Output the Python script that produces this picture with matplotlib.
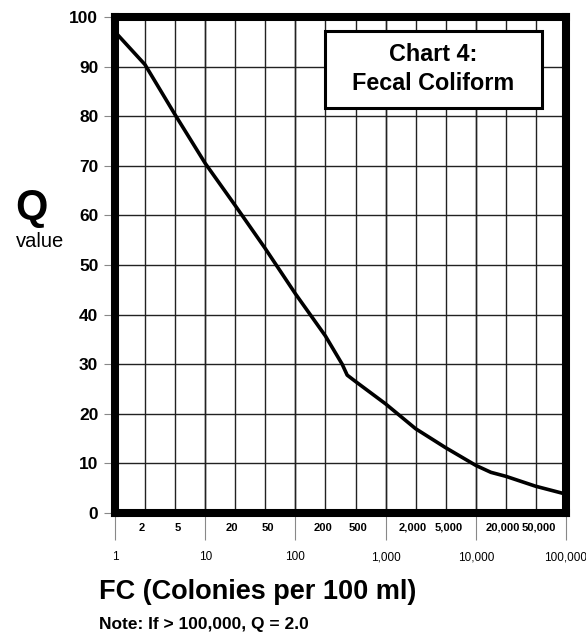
#Fecal coliform Q-value chart
import numpy as np
import matplotlib
matplotlib.use('Agg')
import matplotlib.pyplot as plt
from matplotlib.patches import Rectangle

plt.rcParams['font.family'] = ['Liberation Sans', 'DejaVu Sans']

#curve (FC colonies per 100 ml, Q value)
fc_values = [1, 2.15, 4.6, 10, 21.5, 46, 100, 215, 330, 375, 465,
             1000, 2150, 4600, 10000, 14700, 21500, 46000, 100000]
q_values = [97, 90.4, 80.4, 70.5, 62, 53.4, 44.2, 35.7, 30, 27.8, 26.5,
            22, 17, 13.2, 9.6, 8.2, 7.4, 5.4, 3.8]

#tick labels
decade_values = [1, 10, 100, 1000, 10000, 100000]
decade_labels = ['1', '10', '100', '1,000', '10,000', '100,000']
sub_values = [2, 5, 20, 50, 200, 500, 2000, 5000, 20000, 50000]
sub_labels = ['2', '5', '20', '50', '200', '500', '2,000', '5,000', '20,000', '50,000']
q_ticks = [0, 10, 20, 30, 40, 50, 60, 70, 80, 90, 100]

fig = plt.figure(figsize=(5.86, 6.36), dpi=100)
ax = fig.add_axes([115 / 586, 1 - 513 / 636, 451 / 586, 496 / 636])

#log x axis
ax.set_xscale('log')
ax.set_xlim(1, 100000)
ax.set_ylim(0, 100)

ax.set_xticks(decade_values)
ax.set_xticklabels(decade_labels)
ax.set_xticks(sub_values, minor=True)
ax.set_xticklabels(sub_labels, minor=True)
ax.set_yticks(q_ticks)
ax.set_yticklabels([str(t) for t in q_ticks])

ax.tick_params(axis='x', which='major', direction='out', length=19.5, width=0.8,
               color='#888888', pad=8, labelsize=8.5)
ax.tick_params(axis='x', which='minor', length=0, pad=7, labelsize=8)
for lbl in ax.get_xticklabels(minor=True):
    lbl.set_fontweight('bold')
ax.tick_params(axis='y', direction='out', length=8, width=0.8, color='#888888',
               pad=4, labelsize=12.5)
for lbl in ax.get_yticklabels():
    lbl.set_fontweight('bold')

#grid: horizontal every 10, vertical at each third of a decade
ax.grid(which='major', axis='both', color='#222222', linewidth=1.0)
thirds = 10.0 ** (np.arange(15) / 3)
ax.vlines(thirds, 0, 1, transform=ax.get_xaxis_transform(), color='#222222',
          linewidth=1.0, zorder=0.5)
ax.set_axisbelow(True)

#thick black frame
for side in ax.spines.values():
    side.set_linewidth(5.8)
    side.set_color('black')
    side.set_capstyle('projecting')
    side.set_zorder(5)

#the curve
ax.plot(fc_values, q_values, color='black', linewidth=2.6, zorder=4,
        solid_joinstyle='round')

#title box
ax.add_patch(Rectangle((0.4656, 0.8165), 0.4812, 0.1553, transform=ax.transAxes,
                       facecolor='white', edgecolor='black', linewidth=2.2, zorder=6))
ax.text(0.705, 0.9234, 'Chart 4:', transform=ax.transAxes, ha='center', va='center',
        fontsize=16.8, fontweight='bold', zorder=7)
ax.text(0.705, 0.8669, 'Fecal Coliform', transform=ax.transAxes, ha='center', va='center',
        fontsize=16.8, fontweight='bold', zorder=7)

#y axis label
fig.text(31 / 586, 1 - 208 / 636, 'Q', ha='center', va='center', fontsize=30,
         fontweight='bold')
fig.text(40 / 586, 1 - 241 / 636, 'value', ha='center', va='center', fontsize=14.5)

#x axis label and note
fig.text(99 / 586, 1 - 592 / 636, 'FC (Colonies per 100 ml)', ha='left', va='center',
         fontsize=19.5, fontweight='bold')
fig.text(99 / 586, 1 - 624 / 636, 'Note: If > 100,000, Q = 2.0', ha='left', va='center',
         fontsize=12.5, fontweight='bold')

fig.savefig('out.png', dpi=100)
